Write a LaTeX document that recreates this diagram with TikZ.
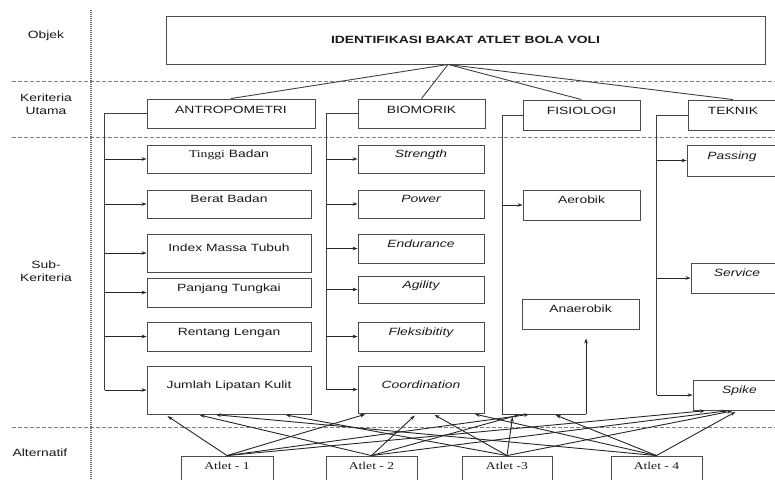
\documentclass[tikz,border=0pt]{standalone}
\usepackage{fontspec}
\setmainfont[FakeStretch=1.32]{Liberation Sans}
\newfontfamily\tnr[FakeStretch=1.3]{Liberation Serif}
\usetikzlibrary{arrows.meta}

\begin{document}
\begin{tikzpicture}
  [x=1pt, y=-1pt, line width=0.9pt,
   every node/.style={font=\fontsize{10.5}{13}\selectfont, text=black!90},
   box/.style={draw=black!70, inner sep=0pt, text height=8pt, text depth=9pt},
   subbox/.style={box, text depth=11pt},
   link/.style={draw=black!75},
   arr/.style={draw=black!85, -{Stealth[length=5pt,width=3.6pt]}},
   web/.style={arr, shorten >=3pt},
   sep/.style={draw=black!50, dash pattern=on 3.5pt off 2.5pt}]
  \useasboundingbox (0,0) rectangle (775,479);
  \clip (0,0) rectangle (775,479);

  \draw[sep] (12,81) -- (775,81);
  \draw[sep] (12,137) -- (775,137);
  \draw[sep] (12,427) -- (775,427);
  \draw[black!60, line width=1.3pt, dash pattern=on 1pt off 1pt] (91,10) -- (91,479);

  \node (objek) at (46,36) {Objek};
  \node[align=center] (utama) at (46,104) {Keriteria\\Utama};
  \node[align=center] (subkrit) at (46,271) {Sub-\\Keriteria};
  \node (alt) at (40,453) {Alternatif};

  \node[box, font=\fontsize{10.5}{13}\selectfont\bfseries, text depth=1pt,
        minimum width=599pt, minimum height=48pt] (top) at (465.5,40)
        {IDENTIFIKASI BAKAT ATLET BOLA VOLI};

  \node[box, minimum width=168pt, minimum height=29pt] (antro) at (231,113.5) {ANTROPOMETRI};
  \node[box, minimum width=127pt, minimum height=29pt] (bio) at (421.5,113.5) {BIOMORIK};
  \node[box, minimum width=117pt, minimum height=30pt] (fis) at (581.5,115) {FISIOLOGI};
  \node[box, minimum width=90pt, minimum height=30pt] (tek) at (733,115) {TEKNIK};

  \foreach \k in {antro,bio,fis,tek}
    \draw[link] ([xshift=-17.5pt]top.south) -- (\k.north);

  \node[subbox, minimum width=164pt, minimum height=28pt] (tinggi) at (229,159) {{\tnr Tinggi} Badan};
  \node[subbox, minimum width=164pt, minimum height=28pt] (berat) at (229,204) {Berat Badan};
  \node[subbox, minimum width=164pt, minimum height=38pt] (index) at (229,253) {Index Massa Tubuh};
  \node[subbox, minimum width=164pt, minimum height=29pt] (panjang) at (229,292.5) {Panjang Tungkai};
  \node[subbox, minimum width=164pt, minimum height=29pt] (rentang) at (229,336.5) {Rentang Lengan};
  \node[subbox, minimum width=164pt, minimum height=48pt] (jumlah) at (229,390) {Jumlah Lipatan Kulit};

  \node[subbox, minimum width=126pt, minimum height=28pt] (strength) at (421,159) {\itshape Strength};
  \node[subbox, minimum width=126pt, minimum height=28pt] (power) at (421,204) {\itshape Power};
  \node[subbox, minimum width=126pt, minimum height=29pt] (endurance) at (421,248.5) {\itshape Endurance};
  \node[subbox, minimum width=126pt, minimum height=27pt] (agility) at (421,289.5) {\itshape Agility};
  \node[subbox, minimum width=126pt, minimum height=29pt] (fleks) at (421,336.5) {\itshape Fleksibitity};
  \node[subbox, minimum width=126pt, minimum height=47pt] (coord) at (421,389.5) {\itshape Coordination};

  \node[subbox, minimum width=117pt, minimum height=30pt] (aerobik) at (581.5,205) {Aerobik};
  \node[subbox, minimum width=117pt, minimum height=30pt] (anaerobik) at (580.5,314) {Anaerobik};

  \node[subbox, minimum width=90pt, minimum height=31pt] (passing) at (732,160.5) {\itshape Passing};
  \node[subbox, minimum width=92pt, minimum height=30pt] (service) at (737,278) {\itshape Service};
  \node[subbox, minimum width=93pt, minimum height=30pt] (spike) at (739.5,395) {\itshape Spike};

  \node[subbox, font=\fontsize{10.5}{13}\selectfont\tnr, minimum width=92pt, minimum height=30pt] (a1) at (227,471) {Atlet - 1};
  \node[subbox, font=\fontsize{10.5}{13}\selectfont\tnr, minimum width=91pt, minimum height=30pt] (a2) at (371.5,471) {Atlet - 2};
  \node[subbox, font=\fontsize{10.5}{13}\selectfont\tnr, minimum width=90pt, minimum height=30pt] (a3) at (507,471) {Atlet -3};
  \node[subbox, font=\fontsize{10.5}{13}\selectfont\tnr, minimum width=91pt, minimum height=30pt] (a4) at (656.5,471) {Atlet - 4};

  \draw[link] (antro.west) -- ++(-42,0) coordinate (antro-b) -- (antro-b |- jumlah.west);
  \foreach \n in {tinggi,berat,index,panjang,rentang,jumlah}
    \draw[arr] (antro-b |- \n.west) -- (\n.west);

  \draw[link] (bio.west) -- ++(-31,0) coordinate (bio-b) -- (bio-b |- coord.west);
  \foreach \n in {strength,power,endurance,agility,fleks,coord}
    \draw[arr] (bio-b |- \n.west) -- (\n.west);

  \coordinate (fis-l) at (502,414);
  \coordinate (fis-r) at (586,414);
  \draw[link] (fis.west) -| (fis-l) -- (fis-r);
  \draw[arr] (fis-l |- aerobik.west) -- (aerobik.west);
  \draw[arr, shorten >=9pt] (fis-r) -- (fis-r |- anaerobik.south);

  \draw[link] (tek.west) -- ++(-31,0) coordinate (tek-b) -- (tek-b |- spike.west);
  \foreach \n in {passing,service,spike}
    \draw[arr] (tek-b |- \n.west) -- (\n.west);

  \foreach \s/\t/\d in {a1/jumlah.south/-64, a1/coord.south/-53, a1/fis-l/30, a1/spike.south/-31.5,
                        a2/jumlah.south/-32, a2/coord.south/-4, a2/fis-l/20, a2/spike.south/-9.5,
                        a3/jumlah.south/54, a3/coord.south/11, a3/fis-l/11, a3/spike.south/-4.5,
                        a4/jumlah.south/-16, a4/coord.south/51, a4/fis-l/51, a4/spike.south/-1.5}
    \draw[web] (\s.north) -- ([xshift=\d pt]\t);
\end{tikzpicture}
\end{document}
